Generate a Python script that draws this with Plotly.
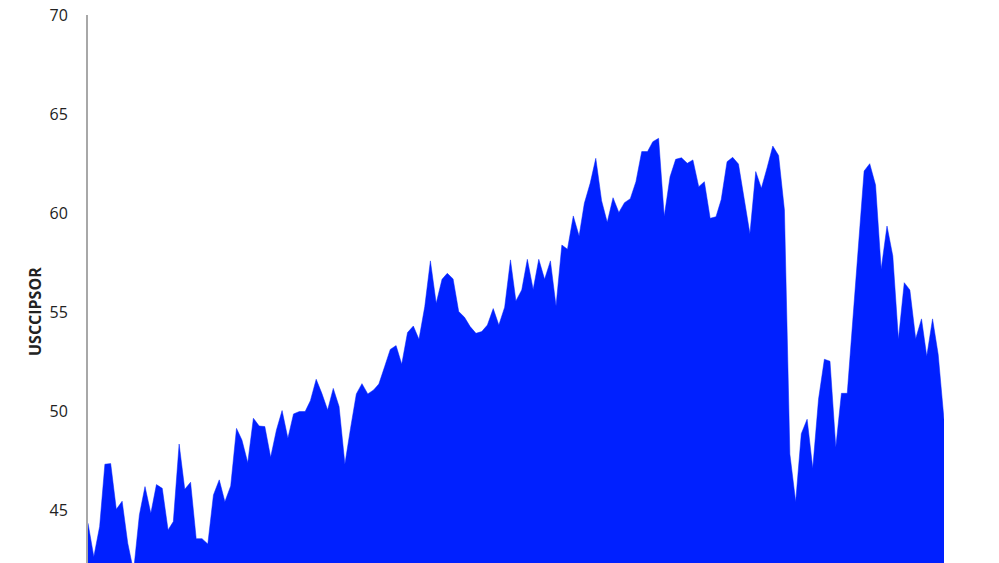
import pandas as pd
import plotly.graph_objects as go

# Monthly series (start month assumed)
start_month = "2009-12-01"
values = [
    44.33, 42.64, 44.16, 47.31, 47.34, 45.03, 45.44, 43.32, 41.90, 44.75,
    46.18, 44.83, 46.28, 46.09, 43.99, 44.41, 48.33, 46.04, 46.40, 43.55,
    43.55, 43.28, 45.76, 46.52, 45.42, 46.21, 49.12, 48.53, 47.39, 49.63,
    49.24, 49.21, 47.66, 49.04, 50.02, 48.62, 49.85, 49.97, 49.97, 50.52,
    51.60, 50.89, 50.05, 51.14, 50.22, 47.32, 49.12, 50.86, 51.38, 50.86,
    51.06, 51.36, 52.24, 53.11, 53.30, 52.36, 53.96, 54.29, 53.62, 55.27,
    57.58, 55.44, 56.65, 56.95, 56.67, 55.02, 54.73, 54.26, 53.92, 54.01,
    54.34, 55.17, 54.34, 55.24, 57.63, 55.56, 56.11, 57.66, 56.14, 57.66,
    56.65, 57.58, 55.30, 58.38, 58.17, 59.85, 58.84, 60.49, 61.50, 62.76,
    60.62, 59.53, 60.77, 60.03, 60.52, 60.72, 61.58, 63.10, 63.10, 63.60,
    63.77, 59.83, 61.83, 62.71, 62.79, 62.51, 62.68, 61.33, 61.58, 59.73,
    59.81, 60.68, 62.59, 62.81, 62.47, 60.68, 58.95, 62.09, 61.25, 62.30,
    63.38, 62.90, 60.15, 47.82, 45.42, 48.85, 49.58, 47.10, 50.60, 52.61,
    52.51, 48.17, 50.89, 50.89, 54.60, 58.40, 62.12, 62.49, 61.41, 57.16,
    59.34, 57.83, 53.62, 56.48, 56.11, 53.65, 54.65, 52.76, 54.65, 52.85,
    49.56,
]
dates = pd.date_range(start_month, periods=len(values), freq="MS")

y_ticks = [45, 50, 55, 60, 65, 70]
y_title = "USCCIPSOR"

fig = go.Figure()
fig.add_trace(go.Scatter(
    x=dates, y=values, mode="lines", fill="tozeroy",
    line=dict(color="rgb(0,32,255)", width=0.5),
    fillcolor="rgb(0,32,255)", hoverinfo="x+y", showlegend=False,
))

fig.update_layout(
    width=999, height=563,
    margin=dict(l=88, r=55, t=15, b=0, autoexpand=False),
    paper_bgcolor="white", plot_bgcolor="white",
    font=dict(family="Open Sans, sans-serif", size=16, color="#222"),
    xaxis=dict(visible=False, range=[dates[0], dates[-1]], automargin=False),
    yaxis=dict(
        range=[42.32, 70], tickvals=y_ticks, ticktext=[str(v) for v in y_ticks],
        showgrid=False, zeroline=False, showline=True, linecolor="#a8a8a8",
        linewidth=2, ticks="", ticklabelstandoff=15, ticklabeloverflow="allow",
        automargin=False,
        tickfont=dict(family="Open Sans, sans-serif", size=16, color="#222"),
    ),
    annotations=[dict(
        text="<b>" + y_title + "</b>", xref="paper", yref="paper",
        x=-0.0619, y=0.458, xanchor="center", yanchor="middle",
        textangle=-90, showarrow=False,
        font=dict(family="Open Sans, sans-serif", size=16, color="#222"),
    )],
)

fig.write_html(
    "out.html",
    config={"displayModeBar": False},
    post_script="document.body.style.margin='0';document.body.style.overflow='hidden';",
)
